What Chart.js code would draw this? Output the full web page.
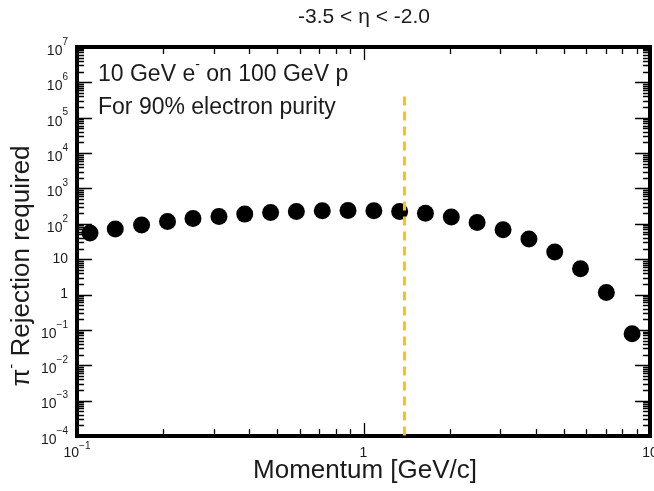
<!DOCTYPE html>
<html>
<head>
<meta charset="utf-8">
<script src="https://cdn.jsdelivr.net/npm/chart.js@4.4.1/dist/chart.umd.min.js"></script>
<style>
  html, body { margin: 0; padding: 0; background: #fff; }
</style>
</head>
<body>
<canvas id="rejChart" width="654" height="491"></canvas>
<script>
// momentum [GeV/c] of each point
const momentum = [0.111, 0.136, 0.168, 0.207, 0.254, 0.313, 0.385, 0.474, 0.583, 0.718, 0.883,
                  1.087, 1.337, 1.645, 2.025, 2.492, 3.07, 3.78, 4.65, 5.72, 7.04, 8.66];
// pion rejection required
const rejection = [55, 71, 92, 116, 141, 161, 188, 209, 222, 233, 238,
                   233, 222, 200, 155, 109, 68, 37, 15.9, 5.4, 1.15, 0.078];

// vertical dashed marker
const cutMomentum = 1.39;
const cutRange = [4e5, 1e-4];

// axis ranges / tick labels (base, exponent)
const xRange = [0.1, 10];
const yRange = [1e-4, 1e7];
const xTickLabels = [[0.1, '10', '\u22121'], [1, '1', ''], [10, '10', '']];
const yTickLabels = [
  [1e7, '10', '7'], [1e6, '10', '6'], [1e5, '10', '5'], [1e4, '10', '4'],
  [1e3, '10', '3'], [1e2, '10', '2'], [10, '10', ''], [1, '1', ''],
  [1e-1, '10', '\u22121'], [1e-2, '10', '\u22122'], [1e-3, '10', '\u22123'], [1e-4, '10', '\u22124']
];

const FONT = '"Liberation Sans", Arial, sans-serif';
const textColor = '#1b1b1b';
const cutColor = '#FFC20E';

// draws the frame with inward ticks, tick labels and titles
const framePlugin = {
  id: 'frame',
  beforeDatasetsDraw(chart) {
    const { ctx, chartArea: a, scales: { x, y } } = chart;
    ctx.save();
    ctx.strokeStyle = '#000';
    ctx.lineWidth = 1.3;
    ctx.beginPath();
    for (let d = -4; d <= 6; d++) {
      for (let m = 1; m <= 9; m++) {
        const py = Math.round(y.getPixelForValue(m * Math.pow(10, d))) + 0.5;
        const len = m === 1 ? 15 : 7;
        ctx.moveTo(a.left, py); ctx.lineTo(a.left + len, py);
        ctx.moveTo(a.right, py); ctx.lineTo(a.right - len, py);
      }
    }
    for (let d = -1; d <= 0; d++) {
      for (let m = 1; m <= 9; m++) {
        const px = Math.round(x.getPixelForValue(m * Math.pow(10, d))) + 0.5;
        const len = m === 1 ? 13 : 7;
        ctx.moveTo(px, a.bottom); ctx.lineTo(px, a.bottom - len);
        ctx.moveTo(px, a.top); ctx.lineTo(px, a.top + len);
      }
    }
    ctx.stroke();
    ctx.lineWidth = 4;
    ctx.strokeRect(a.left, a.top, a.right - a.left, a.bottom - a.top);

    ctx.fillStyle = textColor;
    ctx.textBaseline = 'middle';
    // y tick labels
    yTickLabels.forEach(([v, base, exp]) => {
      const py = y.getPixelForValue(v);
      const right = 68;
      if (exp) {
        ctx.font = '10px ' + FONT;
        const ew = ctx.measureText(exp).width;
        ctx.textAlign = 'right';
        ctx.fillText(exp, right, py - 5);
        ctx.font = '14px ' + FONT;
        ctx.fillText(base, right - ew, py + 4);
      } else {
        ctx.font = '14px ' + FONT;
        ctx.textAlign = 'right';
        ctx.fillText(base, right, py);
      }
    });
    // x tick labels
    xTickLabels.forEach(([v, base, exp]) => {
      const px = x.getPixelForValue(v);
      const py = a.bottom + 17;
      ctx.font = '14px ' + FONT;
      const bw = ctx.measureText(base).width;
      ctx.font = '10px ' + FONT;
      const ew = exp ? ctx.measureText(exp).width : 0;
      const start = px - (bw + ew) / 2;
      ctx.textAlign = 'left';
      ctx.font = '14px ' + FONT;
      ctx.fillText(base, start, py);
      if (exp) {
        ctx.font = '10px ' + FONT;
        ctx.fillText(exp, start + bw, py - 7);
      }
    });

    // titles
    ctx.textAlign = 'center';
    ctx.font = '21px ' + FONT;
    ctx.fillText('-3.5 < \u03B7 < -2.0', 364, 17);
    ctx.font = '26px ' + FONT;
    ctx.fillText('Momentum [GeV/c]', 365, 471);

    // y title, rotated
    ctx.save();
    ctx.translate(22, 266);
    ctx.rotate(-Math.PI / 2);
    ctx.textAlign = 'left';
    ctx.font = '26px ' + FONT;
    const p1 = '\u03C0', p2 = ' Rejection required';
    const w1 = ctx.measureText(p1).width;
    ctx.font = '15px ' + FONT;
    const wm = ctx.measureText('-').width;
    ctx.font = '26px ' + FONT;
    const w2 = ctx.measureText(p2).width;
    let sx = -(w1 + wm + w2) / 2;
    ctx.fillText(p1, sx, 0);
    ctx.font = '15px ' + FONT;
    ctx.fillText('-', sx + w1, -10);
    ctx.font = '26px ' + FONT;
    ctx.fillText(p2, sx + w1 + wm, 0);
    ctx.restore();

    // annotation text
    ctx.textAlign = 'left';
    ctx.font = '23px ' + FONT;
    const t1 = '10 GeV e', t2 = ' on 100 GeV p';
    ctx.fillText(t1, 98, 75);
    const tw = ctx.measureText(t1).width;
    ctx.font = '14px ' + FONT;
    ctx.fillText('-', 98 + tw, 65);
    const mw = ctx.measureText('-').width;
    ctx.font = '23px ' + FONT;
    ctx.fillText(t2, 98 + tw + mw, 75);
    ctx.fillText('For 90% electron purity', 98, 108);
    ctx.restore();
  }
};

new Chart(document.getElementById('rejChart').getContext('2d'), {
  type: 'scatter',
  data: {
    datasets: [{
      type: 'line',
      data: cutRange.map(v => ({ x: cutMomentum, y: v })),
      borderColor: cutColor,
      borderWidth: 3,
      borderDash: [9, 6],
      pointRadius: 0,
      fill: false,
    }, {
      data: momentum.map((m, i) => ({ x: m, y: rejection[i] })),
      backgroundColor: '#000',
      borderWidth: 0,
      pointRadius: 8.5,
      pointHoverRadius: 8.5,
    }]
  },
  options: {
    responsive: false,
    animation: false,
    events: [],
    layout: { autoPadding: false, padding: { left: 77, right: 4, top: 47, bottom: 55 } },
    plugins: { legend: { display: false }, tooltip: { enabled: false } },
    scales: {
      x: { type: 'logarithmic', min: xRange[0], max: xRange[1], display: false },
      y: { type: 'logarithmic', min: yRange[0], max: yRange[1], display: false }
    }
  },
  plugins: [framePlugin]
});
</script>
</body>
</html>
